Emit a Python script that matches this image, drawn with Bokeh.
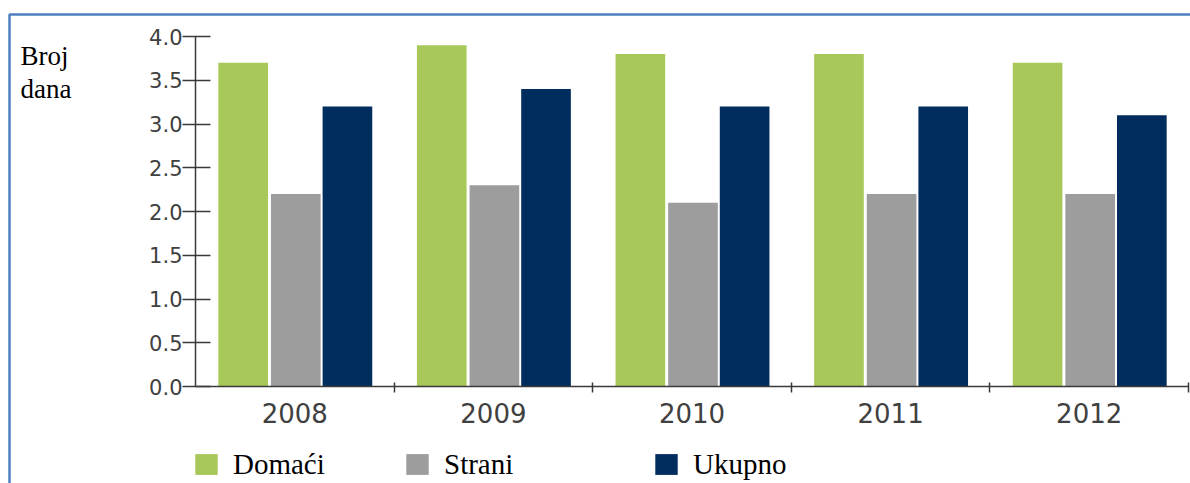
from bokeh.plotting import figure
from bokeh.models import (Range1d, FixedTicker, Legend, LegendItem, Label,
                          BoxAnnotation, ColumnDataSource)
from bokeh.transform import dodge
from bokeh.embed import file_html
from bokeh.resources import INLINE

years = ["2008", "2009", "2010", "2011", "2012"]
domaci = [3.7, 3.9, 3.8, 3.8, 3.7]
strani = [2.2, 2.3, 2.1, 2.2, 2.2]
ukupno = [3.2, 3.4, 3.2, 3.2, 3.1]
series_names = ["Domaći", "Strani", "Ukupno"]
y_ticks = [0, 0.5, 1.0, 1.5, 2.0, 2.5, 3.0, 3.5, 4.0]
y_label = ["Broj", "dana"]

colors = ["#a8c85a", "#9d9d9d", "#002c5e"]

xpos = [i + 0.5 for i in range(len(years))]
src = ColumnDataSource(dict(x=xpos, d=domaci, s=strani, u=ukupno))

# canvas geometry (pixels)
W, H = 1190, 483
x0_px, px_per_cat = 195, 198.6      # category axis start, pixels per category
y0_px, px_per_unit = 386, 87.5      # value 0 baseline, pixels per unit

xr = Range1d(-x0_px / px_per_cat, (W - x0_px) / px_per_cat)
yr = Range1d(-(H - y0_px) / px_per_unit, y0_px / px_per_unit)

p = figure(width=W, height=H, output_backend="svg", toolbar_location=None,
           x_range=xr, y_range=yr, min_border=0,
           min_border_left=0, min_border_right=0, min_border_top=0,
           min_border_bottom=0)
p.outline_line_color = None
p.xgrid.grid_line_color = None
p.ygrid.grid_line_color = None
p.background_fill_color = "white"
p.border_fill_color = "white"

bw = 0.25
r1 = p.vbar(x=dodge("x", -0.26, range=p.x_range), top="d", width=bw, bottom=0,
            source=src, fill_color=colors[0], line_color=None)
r2 = p.vbar(x=dodge("x", 0.005, range=p.x_range), top="s", width=bw, bottom=0,
            source=src, fill_color=colors[1], line_color=None)
r3 = p.vbar(x=dodge("x", 0.265, range=p.x_range), top="u", width=bw, bottom=0,
            source=src, fill_color=colors[2], line_color=None)

axc = "#3a3a3a"
# y axis
ya = p.yaxis[0]
ya.fixed_location = 0
ya.bounds = (0, 4)
ya.ticker = FixedTicker(ticks=y_ticks, minor_ticks=[])
ya.major_label_overrides = {t: f"{t:.1f}" for t in y_ticks}
ya.axis_line_color = axc
ya.axis_line_width = 1.5
ya.major_tick_line_color = axc
ya.major_tick_line_width = 1.5
ya.major_tick_in = 15
ya.major_tick_out = 13
ya.major_label_standoff = 0
ya.major_label_text_font = "DejaVu Sans"
ya.major_label_text_font_size = "21px"
ya.major_label_text_color = "#404040"

# x axis
xa = p.xaxis[0]
xa.fixed_location = 0
xa.bounds = (0, len(years))
xa.ticker = FixedTicker(ticks=xpos, minor_ticks=[i + 1 for i in range(len(years))])
xa.major_label_overrides = {x: y for x, y in zip(xpos, years)}
xa.axis_line_color = axc
xa.axis_line_width = 1.5
xa.major_tick_line_color = None
xa.major_tick_in = 0
xa.major_tick_out = 0
xa.minor_tick_line_color = axc
xa.minor_tick_line_width = 1.5
xa.minor_tick_in = 4
xa.minor_tick_out = 6
xa.major_label_standoff = 10
xa.major_label_text_font = "DejaVu Sans"
xa.major_label_text_font_size = "26px"
xa.major_label_text_color = "#404040"

# y label text (screen units measured from frame left / bottom)
for txt, yy in zip(y_label, [H - 55, H - 88]):
    p.add_layout(Label(x=20, y=yy, x_units="screen", y_units="screen",
                       text=txt, text_font="Liberation Serif",
                       text_font_size="27px", text_color="black",
                       text_baseline="alphabetic"))

# legends
for r, name, lx in zip([r1, r2, r3], series_names, [192, 403, 652]):
    lg = Legend(items=[LegendItem(label=name, renderers=[r])],
                location=(lx, 0), orientation="horizontal",
                padding=0, margin=0, spacing=0, border_line_color=None,
                background_fill_alpha=0, glyph_width=28, glyph_height=26,
                label_standoff=13, label_text_font="Liberation Serif",
                label_text_font_size="29px", label_text_color="black",
                label_height=38)
    p.add_layout(lg)

# blue frame border
p.add_layout(BoxAnnotation(left=9, right=W + 50, top=H - 14, bottom=-50,
                           left_units="screen", right_units="screen",
                           top_units="screen", bottom_units="screen",
                           fill_alpha=0, line_color="#4f7fc0", line_alpha=1.0,
                           line_width=2.5))

open("out.html", "w").write(file_html(p, INLINE))
